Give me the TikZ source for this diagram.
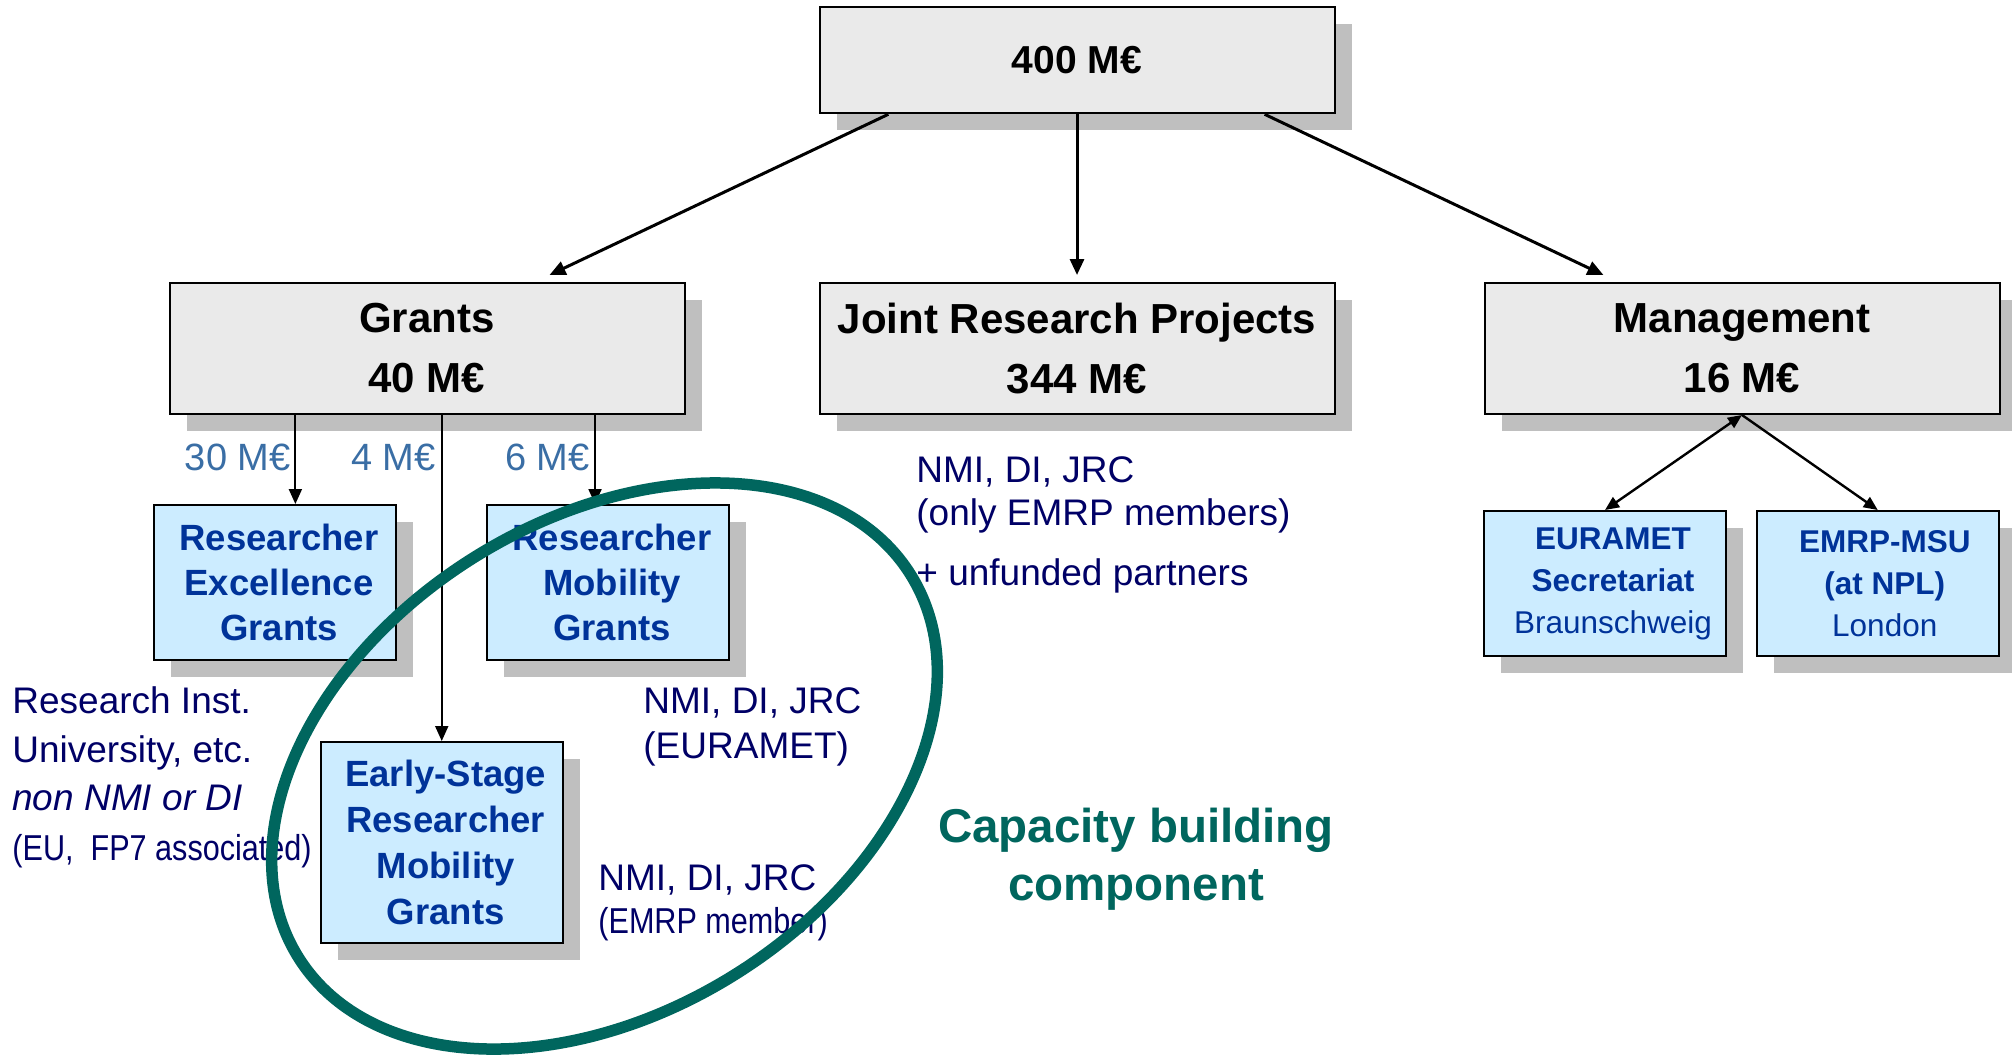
\documentclass[tikz,border=0pt]{standalone}
\usepackage{fontspec}
\setmainfont{Liberation Sans}
\newfontfamily\narrowfont[FakeStretch=0.85]{Liberation Sans}
\usetikzlibrary{shadows,arrows.meta,calc}
\definecolor{boxgray}{HTML}{EAEAEA}
\definecolor{shadowgray}{HTML}{BFBFBF}
\definecolor{boxblue}{HTML}{CCECFF}
\definecolor{txtblue}{HTML}{003399}
\definecolor{navy}{HTML}{000066}
\definecolor{amountblue}{HTML}{3A6EA5}
\definecolor{capteal}{HTML}{00665E}
\tikzset{
  shad/.style={drop shadow={shadow xshift=8.5pt, shadow yshift=-8.5pt, fill=shadowgray, opacity=1}},
  graybox/.style={shad, draw=black, line width=1pt, fill=boxgray, minimum width=257.5pt,
    minimum height=65.5pt, inner sep=0pt, align=center, font=\fontsize{21pt}{30pt}\selectfont\bfseries},
  bluebox/.style={shad, draw=black, line width=1pt, fill=boxblue, inner sep=0pt, minimum width=121pt},
  boxtext/.style={text=txtblue, inner sep=0pt, align=center},
  bluetext/.style={boxtext, font=\fontsize{18.25pt}{22.5pt}\selectfont\bfseries},
  smalltext/.style={boxtext, font=\fontsize{15.75pt}{21pt}\selectfont},
  note/.style={text=navy, anchor=base west, inner sep=0pt, font=\fontsize{18.5pt}{22pt}\selectfont},
  narrownote/.style={note, font=\narrowfont\fontsize{18pt}{20pt}\selectfont},
  amount/.style={text=amountblue, anchor=base east, inner sep=0pt, font=\fontsize{19pt}{22pt}\selectfont},
  captext/.style={text=capteal, anchor=base, inner sep=0pt, font=\fontsize{23.75pt}{29pt}\selectfont\bfseries},
  arr/.style={-{Triangle[length=7.5pt,width=6.5pt]}, line width=1pt},
  bigarr/.style={-{Triangle[length=8pt,width=7pt]}, line width=1.5pt},
  midarr/.style={-{Triangle[length=7pt,width=6pt]}, line width=1.2pt},
}
\begin{document}
\begin{tikzpicture}[x=0.5pt,y=-0.5pt]
\useasboundingbox (0,0) rectangle (2012,1057);

% gray boxes
\node[graybox, minimum height=53pt, font=\fontsize{19.5pt}{24pt}\selectfont\bfseries] (top) at (1077,60.3) {400 M€};
\node[graybox] (grants) at (427,348.5) {Grants\\40 M€};
\node[graybox] (jrp) at (1077,348.5) {Joint Research Projects\\344 M€};
\node[graybox] (mgmt) at (1742,348.5) {Management\\16 M€};

% blue boxes
\node[bluebox, minimum height=77.5pt] (reg) at (275,582.5) {};
\node[bluetext] (regt) at ($(reg.center)+(4,0)$) {Researcher\\Excellence\\Grants};
\node[bluebox, minimum height=77.5pt] (rmg) at (608,582.5) {};
\node[bluetext] (rmgt) at ($(rmg.center)+(4,0)$) {Researcher\\Mobility\\Grants};
\node[bluebox, minimum height=100.5pt] (esg) at (441.75,842.5) {};
\node[bluetext, font=\fontsize{18.25pt}{23pt}\selectfont\bfseries] (esgt) at ($(esg.center)+(4,0)$) {Early-Stage\\Researcher\\Mobility\\Grants};
\node[bluebox, minimum height=72.5pt] (eur) at (1605,583.5) {};
\node[smalltext] (eurt) at ($(eur.center)+(8,0)$) {\textbf{EURAMET}\\\textbf{Secretariat}\\Braunschweig};
\node[bluebox, minimum height=72.5pt] (msu) at (1877.75,583.5) {};
\node[smalltext] (msut) at ($(msu.center)+(7,0)$) {\textbf{EMRP-MSU}\\\textbf{(at NPL)}\\London};

% top arrows
\draw[bigarr] ($(top.south west)!0.135!(top.south east)$) -- ($(grants.north west)!0.737!(grants.north east)+(0,-7)$);
\draw[bigarr] (top.south) -- ($(jrp.north)+(0,-7)$);
\draw[bigarr] ($(top.south west)!0.863!(top.south east)$) -- ($(mgmt.north west)!0.232!(mgmt.north east)+(0,-7)$);

% grants arrows
\coordinate (g1) at ($(grants.south west)!0.2454!(grants.south east)$);
\coordinate (g3) at ($(grants.south west)!0.825!(grants.south east)$);
\draw[arr] (g1) -- (g1 |- reg.north);
\draw[arr] (esg.north |- grants.south) -- (esg.north);
\draw[arr] (g3) -- (g3 |- rmg.north);

% management arrows
\draw[{Triangle[length=7pt,width=6pt]}-{Triangle[length=7pt,width=6pt]}, line width=1.2pt] (mgmt.south) -- (eur.north);
\draw[midarr] (mgmt.south) -- (msu.north);

% amounts
\node[amount] (a30) at (291,470) {30 M€};
\node[amount] (a4) at (436,470) {4 M€};
\node[amount] (a6) at (590,470) {6 M€};

% left notes
\node[note] (l1) at (12,713) {Research Inst.};
\node[note] (l2) at (12,762) {University, etc.};
\node[note, font=\fontsize{18.5pt}{22pt}\selectfont\itshape] (l3) at (12,810) {non NMI or DI};
\node[narrownote] (l4) at (12,860) {(EU,\ \ FP7 associated)};

% JRP notes
\node[note] (j1) at (916,482) {NMI, DI, JRC};
\node[note] (j2) at (916,525) {(only EMRP members)};
\node[note] (j3) at (916,585) {+ unfunded partners};

% mobility notes
\node[note] (e1) at (643,713) {NMI, DI, JRC};
\node[note] (e2) at (643,758) {(EURAMET)};
\node[note] (m1) at (598,890) {NMI, DI, JRC};
\node[narrownote] (m2) at (598,933) {(EMRP member)};

% capacity building
\node[captext] (cap1) at (1136,842) {Capacity building};
\node[captext] (cap2) at (1136,900) {component};

% ellipse
\begin{scope}[shift={(604.5,766)}, rotate=32]
\draw[capteal, line width=5.75pt] (0,0) ellipse [x radius=180.5pt, y radius=123pt];
\end{scope}
\end{tikzpicture}
\end{document}
